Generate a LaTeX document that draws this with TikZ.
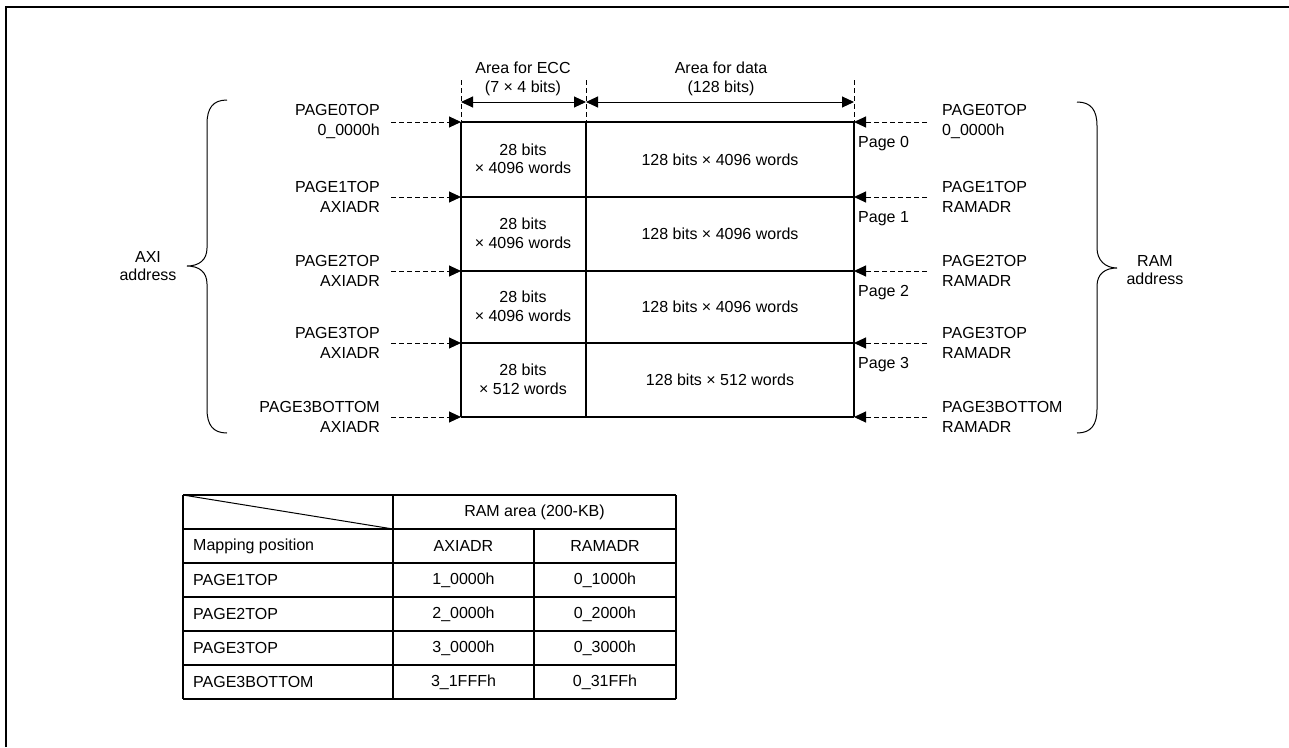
\documentclass[tikz,border=0pt]{standalone}
\usepackage{fontspec}
\setmainfont{Liberation Sans}
\usetikzlibrary{arrows.meta}
\begin{document}
\begin{tikzpicture}[x=1pt,y=-1pt,
  font=\fontsize{16}{20}\selectfont,
  gridline/.style={line width=2pt},
  tabline/.style={line width=1.2pt},
  framel/.style={line width=2.2pt},
  dsh/.style={dash pattern=on 5pt off 3pt, line width=1pt},
  arr/.style={-{Triangle[length=12pt,width=11pt]}},
  dimarr/.style={{Triangle[length=12pt,width=11pt]}-{Triangle[length=12pt,width=11pt]}, line width=1pt},
  lbl/.style={inner sep=0pt},
  cell/.style={inner sep=0pt, align=center, font=\fontsize{16}{18.5}\selectfont},
  brace/.style={line width=1pt}
]
\useasboundingbox (0,0) rectangle (1289,747);
% frame
\coordinate (F0) at (6,747);
\coordinate (F1) at (6,7);
\coordinate (F2) at (1289,7);
\draw[framel] (F0) -- (F1) -- (F2);

% rows
\foreach \i/\y in {0/122,1/197,2/271,3/343,4/417} {
  \coordinate (L\i) at (461,\y);
  \coordinate (M\i) at (586,\y);
  \coordinate (R\i) at (854,\y);
  \coordinate (LT\i) at (391,\y);
  \coordinate (RT\i) at (927,\y);
  \draw[dsh,arr] (LT\i) -- (L\i);
  \draw[dsh,arr] (RT\i) -- (R\i);
  \draw[gridline] (L\i) -- (R\i);
}
\draw[gridline] (L0) -- (L4);
\draw[gridline] (M0) -- (M4);
\draw[gridline] (R0) -- (R4);

% dimension lines
\coordinate (V1) at (461,80);
\coordinate (V2) at (586,80);
\coordinate (V3) at (854,80);
\coordinate (D1) at (461,102);
\coordinate (D2) at (586,102);
\coordinate (D3) at (854,102);
\draw[dsh,line width=0.8pt] (V1) -- (L0);
\draw[dsh,line width=0.8pt] (V2) -- (M0);
\draw[dsh,line width=0.8pt] (V3) -- (R0);
\draw[dimarr] (D1) -- (D2);
\draw[dimarr] (D2) -- (D3);
\node[cell] (hecc) at (523,79) {Area for ECC\\(7 × 4 bits)};
\node[cell] (hdata) at (721,79) {Area for data\\(128 bits)};

% cell contents
\node[cell] (e0) at (523,159) {28 bits\\× 4096 words};
\node[cell] (e1) at (523,233.5) {28 bits\\× 4096 words};
\node[cell] (e2) at (523,306.5) {28 bits\\× 4096 words};
\node[cell] (e3) at (523,379.5) {28 bits\\× 512 words};
\node[cell] (d0) at (720,160) {128 bits × 4096 words};
\node[cell] (d1) at (720,234) {128 bits × 4096 words};
\node[cell] (d2) at (720,307) {128 bits × 4096 words};
\node[cell] (d3) at (720,380) {128 bits × 512 words};

% page labels
\node[lbl,anchor=base west] (p0) at (858,147) {Page 0};
\node[lbl,anchor=base west] (p1) at (858,222) {Page 1};
\node[lbl,anchor=base west] (p2) at (858,296) {Page 2};
\node[lbl,anchor=base west] (p3) at (858,368) {Page 3};

% left labels
\node[lbl,anchor=east,align=right] (la0) at (380,121.5) {PAGE0TOP\\0\_0000h};
\node[lbl,anchor=east,align=right] (la1) at (380,196.5) {PAGE1TOP\\AXIADR};
\node[lbl,anchor=east,align=right] (la2) at (380,270.5) {PAGE2TOP\\AXIADR};
\node[lbl,anchor=east,align=right] (la3) at (380,342.5) {PAGE3TOP\\AXIADR};
\node[lbl,anchor=east,align=right] (la4) at (380,416.5) {PAGE3BOTTOM\\AXIADR};
% right labels
\node[lbl,anchor=west,align=left] (ra0) at (942,121.5) {PAGE0TOP\\0\_0000h};
\node[lbl,anchor=west,align=left] (ra1) at (942,196.5) {PAGE1TOP\\RAMADR};
\node[lbl,anchor=west,align=left] (ra2) at (942,270.5) {PAGE2TOP\\RAMADR};
\node[lbl,anchor=west,align=left] (ra3) at (942,342.5) {PAGE3TOP\\RAMADR};
\node[lbl,anchor=west,align=left] (ra4) at (942,416.5) {PAGE3BOTTOM\\RAMADR};

% braces
\draw[brace] (227,100) .. controls (213,100) and (207,108) .. (207,124)
  -- (207,248) .. controls (207,260) and (199,266) .. (187,266)
  .. controls (199,266) and (207,272) .. (207,284)
  -- (207,409) .. controls (207,425) and (213,433) .. (227,433);
\draw[brace] (1077,102) .. controls (1091,102) and (1097,110) .. (1097,126)
  -- (1097,248) .. controls (1097,260) and (1105,268) .. (1117,268)
  .. controls (1105,268) and (1097,274) .. (1097,286)
  -- (1097,409) .. controls (1097,425) and (1091,433) .. (1077,433);
\node[cell] (axi) at (148,266) {AXI\\address};
\node[cell] (ram) at (1155,270) {RAM\\address};

% table
\foreach \y in {495,529,563,597,631,665,699} {
  \draw[tabline] (183,\y) -- (676,\y);
}
\draw[tabline] (183,495) -- (183,699);
\draw[tabline] (393,495) -- (393,699);
\draw[tabline] (534,529) -- (534,699);
\draw[tabline] (676,495) -- (676,699);
\draw[line width=1pt] (183,495) -- (393,529);
\node[lbl] (th) at (534.5,512) {RAM area (200-KB)};
\node[lbl,anchor=west] (t1a) at (193,546) {Mapping position};
\node[lbl] (t1b) at (463.5,546) {AXIADR};
\node[lbl] (t1c) at (605,546) {RAMADR};
\node[lbl,anchor=west] (t2a) at (193,580) {PAGE1TOP};
\node[lbl] (t2b) at (463.5,580) {1\_0000h};
\node[lbl] (t2c) at (605,580) {0\_1000h};
\node[lbl,anchor=west] (t3a) at (193,614) {PAGE2TOP};
\node[lbl] (t3b) at (463.5,614) {2\_0000h};
\node[lbl] (t3c) at (605,614) {0\_2000h};
\node[lbl,anchor=west] (t4a) at (193,648) {PAGE3TOP};
\node[lbl] (t4b) at (463.5,648) {3\_0000h};
\node[lbl] (t4c) at (605,648) {0\_3000h};
\node[lbl,anchor=west] (t5a) at (193,682) {PAGE3BOTTOM};
\node[lbl] (t5b) at (463.5,682) {3\_1FFFh};
\node[lbl] (t5c) at (605,682) {0\_31FFh};
\end{tikzpicture}
\end{document}
